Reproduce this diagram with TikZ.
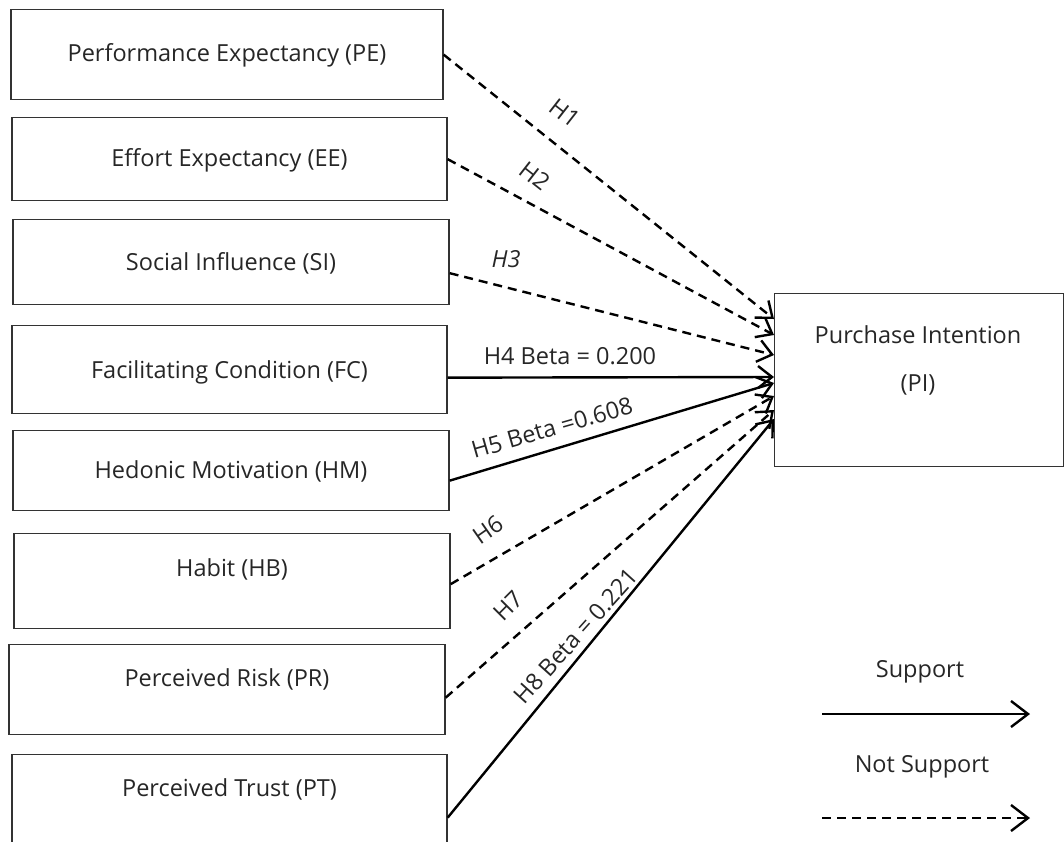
\documentclass[tikz,border=0pt]{standalone}
\usepackage{fontspec}
\setmainfont{Open Sans}
\usetikzlibrary{arrows.meta,calc}
\begin{document}
\begin{tikzpicture}[x=1pt,y=-1pt,
  every node/.style={text=black!85},
  txtfont/.style={font=\fontsize{23.5}{28}\selectfont},
  box/.style={draw=black!80, line width=1.3pt, rectangle, anchor=north,
    inner xsep=0pt, inner ysep=0pt, txtfont},
  lbl/.style={inner sep=0pt, txtfont},
  sup/.style={line width=2.4pt, -{Straight Barb[length=14pt,width=22pt]}},
  nsup/.style={sup, dash pattern=on 9pt off 6pt},
  legarrow/.style={line width=2.4pt, -{Straight Barb[length=17pt,width=26pt]}}
]
\useasboundingbox (0,0) rectangle (1064,841);
\clip (0,0) rectangle (1064,841);

% construct boxes on the left
\node[box, minimum width=432pt, text height=52pt, text depth=38pt] (pe) at (227,9)   {Performance Expectancy (PE)};
\node[box, minimum width=435pt, text height=49pt, text depth=34pt] (ee) at (229.5,117) {Effort Expectancy (EE)};
\node[box, minimum width=436pt, text height=51pt, text depth=34pt] (si) at (231,219) {Social Influence (SI)};
\node[box, minimum width=435pt, text height=53pt, text depth=35pt] (fc) at (229.5,325) {Facilitating Condition (FC)};
\node[box, minimum width=436pt, text height=48pt, text depth=32pt] (hm) at (231,430) {Hedonic Motivation (HM)};
\node[box, minimum width=436pt, text height=43pt, text depth=52pt] (hb) at (232,533) {Habit (HB)};
\node[box, minimum width=436pt, text height=42pt, text depth=48pt] (pr) at (227,644) {Perceived Risk (PR)};
\node[box, minimum width=435pt, text height=42pt, text depth=64pt] (pt) at (229.5,754) {Perceived Trust (PT)};

% dependent construct
\node[box, anchor=north west, minimum width=289pt, minimum height=173pt] (pi) at (774,293) {};
\node[lbl, align=center, execute at begin node={\setlength{\baselineskip}{48pt}}] (pi-text) at (918,360) {Purchase Intention\\(PI)};

% hypothesised paths
\draw[nsup] (pe.east) -- ($(pi.north west)+(0,26)$);
\draw[nsup] (ee.east) -- ($(pi.north west)+(0,42)$);
\draw[nsup] ([yshift=-11pt]si.east) -- ($(pi.north west)+(0,62)$);
\draw[sup]  ([yshift=-8pt]fc.east) -- ($(pi.north west)+(0,84)$);
\draw[sup]  ([yshift=-10pt]hm.east) -- ($(pi.north west)+(0,90)$);
\draw[nsup] ([yshift=-3pt]hb.east) -- ($(pi.north west)+(0,103)$);
\draw[nsup] ([yshift=-8pt]pr.east) -- ($(pi.north west)+(0,117)$);
\draw[sup]  ([yshift=-10pt]pt.east) -- ($(pi.north west)+(0,126)$);

% path labels
\node[lbl, rotate=-38] (h1) at (565,113) {H1};
\node[lbl, rotate=-38] (h2) at (535,176) {H2};
\node[lbl, font=\fontsize{23.5}{28}\selectfont\itshape] (h3) at (506,259) {H3};
\node[lbl] (h4) at (570,356) {H4 Beta = 0.200};
\node[lbl, rotate=16] (h5) at (552,428) {H5 Beta =0.608};
\node[lbl, rotate=35] (h6) at (488,530) {H6};
\node[lbl, rotate=45] (h7) at (508,606) {H7};
\node[lbl, rotate=48] (h8) at (576,636) {H8 Beta = 0.221};

% legend
\node[lbl] (leg-s) at (920,672) {Support};
\coordinate (ls-a) at (822,714);
\coordinate (ls-b) at (1030,714);
\draw[legarrow] (ls-a) -- (ls-b);
\node[lbl] (leg-n) at (922,767) {Not Support};
\coordinate (ln-a) at (822,818);
\coordinate (ln-b) at (1030,818);
\draw[legarrow, dash pattern=on 9pt off 6pt] (ln-a) -- (ln-b);
\end{tikzpicture}
\end{document}
